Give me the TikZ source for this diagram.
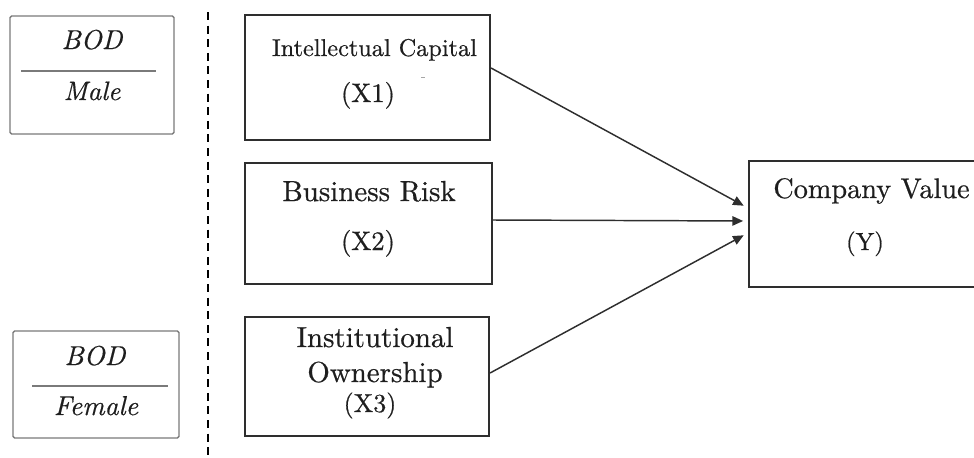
\documentclass[tikz,border=0pt]{standalone}
\usepackage{fontspec}
\setmainfont{lmroman10}[Extension=.otf, UprightFont=*-regular, ItalicFont=*-italic,
  BoldFont=*-bold, UprightFeatures={FakeBold=0.6}, ItalicFeatures={FakeBold=0.5}]
\usetikzlibrary{arrows.meta,calc}
\definecolor{frameink}{HTML}{2E2E2E}
\definecolor{bodink}{HTML}{7A7A7A}
\definecolor{textink}{HTML}{1E1E1E}
\begin{document}
\begin{tikzpicture}[x=0.75pt,y=-0.75pt,
  varbox/.style={draw=frameink, line width=1.6pt, rectangle, inner sep=0pt},
  bodbox/.style={draw=bodink, line width=1pt, rectangle, rounded corners=1.2pt, inner sep=0pt},
  lbl/.style={anchor=base, inner sep=0pt, text=textink},
  flow/.style={draw=frameink, line width=1.1pt, shorten >=3.6pt,
    -{Triangle[length=8pt,width=7pt]}},
  divider/.style={draw=black, line width=2pt, dash pattern=on 6pt off 4.2pt}
]
\useasboundingbox (0,0) rectangle (974,457);
\clip (0,0) rectangle (974,457);

% board of directors groups
\node[bodbox, minimum width=123pt, minimum height=88.5pt] (bodm) at (92,75) {};
\node[lbl, font=\fontsize{20.5pt}{24pt}\selectfont\itshape] (bodmt) at (92,49) {BOD};
\node[lbl, font=\fontsize{20pt}{24pt}\selectfont\itshape] (male) at (92,100) {Male};
\draw[bodink, line width=1.1pt] (21,71) -- (156,71);

\node[bodbox, minimum width=124.5pt, minimum height=80.25pt] (bodf) at (96,384.5) {};
\node[lbl, font=\fontsize{20.5pt}{24pt}\selectfont\itshape] (bodft) at (95,365) {BOD};
\node[lbl, font=\fontsize{20.5pt}{24pt}\selectfont\itshape] (female) at (96,415) {Female};
\draw[bodink, line width=1.1pt] (32,386) -- (168,386);

% separator
\coordinate (septop) at (208,12);
\coordinate (sepbot) at (208,460);
\draw[divider] (septop) -- (sepbot);

% independent variables
\node[varbox, minimum width=183.75pt, minimum height=93.75pt] (x1) at (367.5,77.5) {};
\node[lbl, font=\fontsize{18.2pt}{22pt}\selectfont] (x1name) at (374.5,56) {Intellectual Capital};
\node[lbl, font=\fontsize{20pt}{24pt}\selectfont] (x1code) at (368,102) {(X1)};
\draw[gray!70, line width=0.7pt] (421,77) -- (425,77);

\node[varbox, minimum width=185.25pt, minimum height=90.75pt] (x2) at (368.5,223.5) {};
\node[lbl, font=\fontsize{21.7pt}{26pt}\selectfont] (x2name) at (369,201) {Business Risk};
\node[lbl, font=\fontsize{20pt}{24pt}\selectfont] (x2code) at (368,250) {(X2)};

\node[varbox, minimum width=183pt, minimum height=89.25pt] (x3) at (367,376.5) {};
\node[lbl, font=\fontsize{21.7pt}{26pt}\selectfont] (x3name) at (375,347) {Institutional};
\node[lbl, font=\fontsize{21.7pt}{26pt}\selectfont] (x3name2) at (375,382) {Ownership};
\node[lbl, font=\fontsize{19.5pt}{24pt}\selectfont] (x3code) at (370,412) {(X3)};

% dependent variable
\node[varbox, minimum width=188.25pt, minimum height=94.5pt] (y) at (874.5,224) {};
\node[lbl, font=\fontsize{21.2pt}{26pt}\selectfont] (yname) at (871.5,198) {Company Value};
\node[lbl, font=\fontsize{18.6pt}{22pt}\selectfont] (ycode) at (865,250) {(Y)};

% effects
\draw[flow] ($(x1.east)+(0,-9.5)$) -- ($(y.west)+(0,-16)$);
\draw[flow] ($(x2.east)+(0,-3.5)$) -- ($(y.west)+(0,-3)$);
\draw[flow] ($(x3.east)+(0,-3.5)$) -- ($(y.west)+(0,9)$);
\end{tikzpicture}
\end{document}
